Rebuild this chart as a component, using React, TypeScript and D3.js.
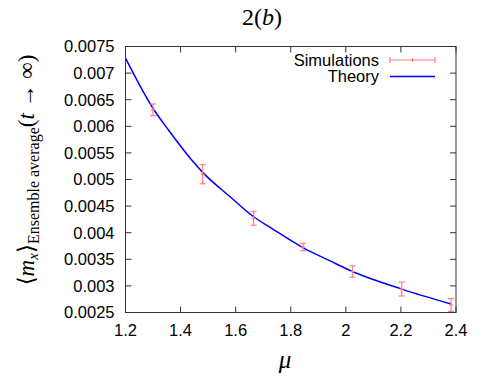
import { useEffect } from 'react';
import * as d3 from 'd3';

const W = 491;
const H = 378;
const MARGIN = { top: 46.5, right: 35, bottom: 65.5, left: 125.5 };

// simulation points (mu, mean, half error)
const simMu = [1.3, 1.48, 1.665, 1.845, 2.024, 2.203, 2.382];
const simVal = [0.00631, 0.0051, 0.00427, 0.00373, 0.00327, 0.00294, 0.00264];
const simErr = [0.00011, 0.00018, 0.00013, 0.00007, 0.000107, 0.00013, 0.00012];

// theory curve
const theoryMu = [1.2, 1.302, 1.356, 1.435, 1.483, 1.581, 1.665, 1.725, 1.844, 1.943, 2.024, 2.203, 2.382];
const theoryVal = [0.00728, 0.00632, 0.00593, 0.0054, 0.00512, 0.00467, 0.0043, 0.0041, 0.00372, 0.00347, 0.00327, 0.00294, 0.00266];

const xTicks = [1.2, 1.4, 1.6, 1.8, 2, 2.2, 2.4];
const xTickLabels = ['1.2', '1.4', '1.6', '1.8', '2', '2.2', '2.4'];
const yTicks = [0.0025, 0.003, 0.0035, 0.004, 0.0045, 0.005, 0.0055, 0.006, 0.0065, 0.007, 0.0075];
const yTickLabels = ['0.0025', '0.003', '0.0035', '0.004', '0.0045', '0.005', '0.0055', '0.006', '0.0065', '0.007', '0.0075'];

const SIM_COLOR = '#ff7f7f';
const LINE_COLOR = '#0000ff';
const AXIS_COLOR = '#333';
const SANS = '"Liberation Sans", Arial, sans-serif';
const SERIF = '"Liberation Serif", "DejaVu Serif", serif';

export default function App() {
  useEffect(() => {
    document.body.style.margin = '0';
  }, []);

  const innerW = W - MARGIN.left - MARGIN.right;
  const innerH = H - MARGIN.top - MARGIN.bottom;
  const x = d3.scaleLinear().domain([1.2, 2.4]).range([MARGIN.left, MARGIN.left + innerW]);
  const y = d3.scaleLinear().domain([0.0025, 0.0075]).range([MARGIN.top + innerH, MARGIN.top]);

  const theory = theoryMu.map((m, i) => ({ m, v: theoryVal[i] }));
  const line = d3.line<{ m: number; v: number }>()
    .x(d => x(d.m)).y(d => y(d.v))
    .curve(d3.curveMonotoneX);

  const sims = simMu.map((m, i) => ({ m, v: simVal[i], e: simErr[i] }));
  const tickLen = 6;
  const cap = 3;

  const x0 = MARGIN.left, x1 = MARGIN.left + innerW;
  const y0 = MARGIN.top + innerH, y1 = MARGIN.top;

  return (
    <svg width={W} height={H} style={{ display: 'block', background: '#fff' }}>
      {/* title */}
      <text x={262} y={25} textAnchor="middle" fontFamily={SERIF} fontSize={24}>
        2(<tspan fontStyle="italic">b</tspan>)
      </text>

      {/* ticks on all four sides */}
      {xTicks.map(t => (
        <g key={'xt' + t}>
          <line x1={x(t)} x2={x(t)} y1={y0} y2={y0 - tickLen} stroke={AXIS_COLOR} />
          <line x1={x(t)} x2={x(t)} y1={y1} y2={y1 + tickLen} stroke={AXIS_COLOR} />
        </g>
      ))}
      {yTicks.map(t => (
        <g key={'yt' + t}>
          <line x1={x0} x2={x0 + tickLen} y1={y(t)} y2={y(t)} stroke={AXIS_COLOR} />
          <line x1={x1} x2={x1 - tickLen} y1={y(t)} y2={y(t)} stroke={AXIS_COLOR} />
        </g>
      ))}

      {/* tick labels */}
      {xTicks.map((t, i) => (
        <text key={'xl' + t} x={x(t)} y={y0 + 23} textAnchor="middle" fontFamily={SANS} fontSize={16.5}>
          {xTickLabels[i]}
        </text>
      ))}
      {yTicks.map((t, i) => (
        <text key={'yl' + t} x={x0 - 11} y={y(t)} dy="0.36em" textAnchor="end" fontFamily={SANS} fontSize={16.5}>
          {yTickLabels[i]}
        </text>
      ))}

      {/* theory curve */}
      <path d={line(theory) || ''} fill="none" stroke={LINE_COLOR} strokeWidth={1.5} />

      {/* simulations with error bars */}
      {sims.map(d => (
        <g key={'s' + d.m} stroke={SIM_COLOR} strokeWidth={1.2}>
          <line x1={x(d.m)} x2={x(d.m)} y1={y(d.v + d.e)} y2={y(d.v - d.e)} />
          <line x1={x(d.m) - cap} x2={x(d.m) + cap} y1={y(d.v + d.e)} y2={y(d.v + d.e)} />
          <line x1={x(d.m) - cap} x2={x(d.m) + cap} y1={y(d.v - d.e)} y2={y(d.v - d.e)} />
          <line x1={x(d.m) - 2} x2={x(d.m) + 2} y1={y(d.v)} y2={y(d.v)} />
        </g>
      ))}

      {/* frame */}
      <rect x={x0} y={y1} width={innerW} height={innerH} fill="none" stroke={AXIS_COLOR} strokeWidth={1} />

      {/* legend */}
      <text x={379} y={60} dy="0.36em" textAnchor="end" fontFamily={SANS} fontSize={16.5}>Simulations</text>
      <g stroke={SIM_COLOR} strokeWidth={1.2}>
        <line x1={390} x2={435} y1={60} y2={60} />
        <line x1={390} x2={390} y1={57} y2={63} />
        <line x1={435} x2={435} y1={57} y2={63} />
        <line x1={412.5} x2={412.5} y1={58} y2={62} />
      </g>
      <text x={379} y={76.5} dy="0.36em" textAnchor="end" fontFamily={SANS} fontSize={16.5}>Theory</text>
      <line x1={390} x2={435} y1={76.5} y2={76.5} stroke={LINE_COLOR} strokeWidth={1.5} />

      {/* axis labels */}
      <text x={285} y={368} textAnchor="middle" fontFamily={SERIF} fontSize={25} fontStyle="italic">μ</text>
      <text transform="translate(34,170) rotate(-90)" textAnchor="middle" fontFamily={SERIF} fontSize={23}>
        <tspan>⟨</tspan>
        <tspan fontStyle="italic">m</tspan>
        <tspan fontStyle="italic" fontSize={15} dy={4}>x</tspan>
        <tspan dy={-4}>⟩</tspan>
        <tspan fontSize={16} dy={5}>Ensemble average</tspan>
        <tspan dy={-5}>(</tspan>
        <tspan fontStyle="italic">t</tspan>
        <tspan> → ∞)</tspan>
      </text>
    </svg>
  );
}
